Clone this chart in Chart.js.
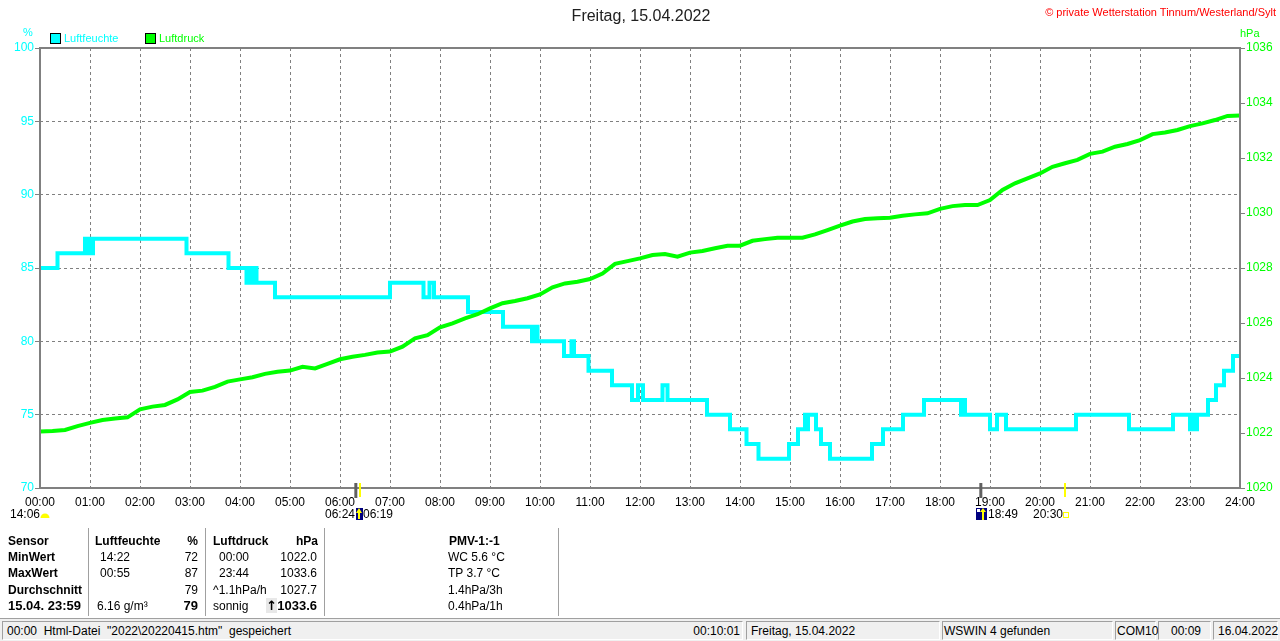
<!DOCTYPE html>
<html>
<head>
<meta charset="utf-8">
<title>Freitag, 15.04.2022</title>
<script src="https://cdn.jsdelivr.net/npm/chart.js@4.4.1/dist/chart.umd.min.js"></script>
<style>
body { margin: 0; background: #fff; font-family: "Liberation Sans", Arial, sans-serif; }
#wrap { position: relative; width: 1280px; height: 641px; overflow: hidden; background: #fff; }
#wrap canvas { position: absolute; left: 0; top: 0; }
.t { position: absolute; white-space: nowrap; font-size: 12px; line-height: 14px; color: #000; }
.b { font-weight: bold; }
.r { text-align: right; }
.sep { position: absolute; top: 528px; height: 88px; width: 0; border-left: 1px solid #a0a0a0; border-right: 1px solid #fff; }
#status { position: absolute; left: 0; top: 618px; width: 1280px; height: 23px; background: #f0f0f0; border-top: 1px solid #a0a0a0; }
.pan { position: absolute; top: 2px; height: 19px; box-sizing: border-box; border-top: 1px solid #a0a0a0; border-left: 1px solid #a0a0a0; border-bottom: 1px solid #fff; border-right: 1px solid #fff; }
.pan span { position: absolute; top: 2px; font-size: 12px; line-height: 14px; white-space: nowrap; }
.box { position: absolute; width: 9px; height: 9px; border: 1px solid #000; }
.pfeil { font-family: "DejaVu Sans", sans-serif; color: #000; background: #e8e8e8; font-weight: bold; }
</style>
</head>
<body>
<div id="wrap">
  <canvas id="grafik" width="1280" height="641"></canvas>

  <div class="t" style="left:1px;width:1280px;top:6px;text-align:center;font-size:16px;line-height:19px;color:#202020;">Freitag, 15.04.2022</div>
  <div class="t" style="right:4px;top:5px;font-size:11px;color:#ff0000;">© private Wetterstation Tinnum/Westerland/Sylt</div>
  <div class="t" style="left:23px;top:25px;font-size:11px;color:#00ffff;">%</div>
  <div class="t" style="left:1240px;top:26px;font-size:11px;color:#00ff00;">hPa</div>

  <div class="box" style="left:50px;top:33px;background:#00ffff;"></div>
  <div class="t" style="left:64px;top:31px;font-size:11px;color:#00ffff;">Luftfeuchte</div>
  <div class="box" style="left:145px;top:33px;background:#00ff00;"></div>
  <div class="t" style="left:159px;top:31px;font-size:11px;color:#00ff00;">Luftdruck</div>

  <!-- Tabelle -->
  <div class="sep" style="left:88px;"></div>
  <div class="sep" style="left:205px;"></div>
  <div class="sep" style="left:324px;"></div>
  <div class="sep" style="left:558px;"></div>

  <div class="t b" style="left:8px;top:534px;">Sensor</div>
  <div class="t b" style="left:8px;top:550px;">MinWert</div>
  <div class="t b" style="left:8px;top:566px;">MaxWert</div>
  <div class="t b" style="left:8px;top:583px;">Durchschnitt</div>
  <div class="t b" style="left:8px;top:599px;font-size:13px;">15.04. 23:59</div>

  <div class="t b" style="left:95px;top:534px;">Luftfeuchte</div>
  <div class="t" style="left:100px;top:550px;">14:22</div>
  <div class="t" style="left:100px;top:566px;">00:55</div>
  <div class="t" style="left:97px;top:599px;">6.16 g/m³</div>
  <div class="t b r" style="right:1082px;top:534px;">%</div>
  <div class="t r" style="right:1082px;top:550px;">72</div>
  <div class="t r" style="right:1082px;top:566px;">87</div>
  <div class="t r" style="right:1082px;top:583px;">79</div>
  <div class="t b r" style="right:1082px;top:599px;font-size:13px;">79</div>

  <div class="t b" style="left:213px;top:534px;">Luftdruck</div>
  <div class="t" style="left:219px;top:550px;">00:00</div>
  <div class="t" style="left:219px;top:566px;">23:44</div>
  <div class="t" style="left:213px;top:583px;">^1.1hPa/h</div>
  <div class="t" style="left:213px;top:599px;">sonnig</div>
  <div class="t b r" style="right:962px;top:534px;">hPa</div>
  <div class="t r" style="right:963px;top:550px;">1022.0</div>
  <div class="t r" style="right:963px;top:566px;">1033.6</div>
  <div class="t r" style="right:963px;top:583px;">1027.7</div>
  <div class="t b r" style="right:963px;top:599px;font-size:13px;"><span class="pfeil">↑</span>1033.6</div>

  <div class="t b" style="left:449px;top:534px;">PMV-1:-1</div>
  <div class="t" style="left:448px;top:550px;">WC 5.6 °C</div>
  <div class="t" style="left:448px;top:566px;">TP 3.7 °C</div>
  <div class="t" style="left:448px;top:583px;">1.4hPa/3h</div>
  <div class="t" style="left:448px;top:599px;">0.4hPa/1h</div>

  <!-- Statusleiste -->
  <div id="status">
    <div class="pan" style="left:2px;width:741px;"><span style="left:4px;">00:00&nbsp; Html-Datei&nbsp; "2022\20220415.htm"&nbsp; gespeichert</span><span style="right:2px;">00:10:01</span></div>
    <div class="pan" style="left:746px;width:194px;"><span style="left:4px;">Freitag, 15.04.2022</span></div>
    <div class="pan" style="left:942px;width:171px;"><span style="left:1px;">WSWIN 4 gefunden</span></div>
    <div class="pan" style="left:1115px;width:41px;"><span style="left:1px;">COM10</span></div>
    <div class="pan" style="left:1158px;width:53px;"><span style="left:12px;">00:09</span></div>
    <div class="pan" style="left:1213px;width:65px;"><span style="left:4px;">16.04.2022</span></div>
  </div>
</div>

<script>
// Luftfeuchte (%), Stufenwerte: Zeit in Stunden, Wert gilt bis zum naechsten Zeitpunkt
const feuchteZeit = [0, 0.35, 0.9, 0.95, 1.0, 1.03, 1.06, 2.93, 3.77, 4.13, 4.18, 4.23, 4.28, 4.33, 4.7,
  7.0, 7.67, 7.79, 7.88, 8.56, 9.26, 9.84, 9.9, 9.95, 10.48, 10.63, 10.68, 10.97, 11.44,
  11.84, 11.96, 12.06, 12.45, 12.55, 13.34, 13.8, 14.13, 14.37, 14.98, 15.16, 15.3, 15.33, 15.36,
  15.52, 15.62, 15.8, 16.64, 16.86, 17.26, 17.68, 18.42, 18.46, 18.5, 19.0, 19.14, 19.32,
  20.72, 21.78, 22.66, 23.0, 23.07, 23.1, 23.14, 23.36, 23.52, 23.68, 23.86, 24.0];
const feuchteWert = [85, 86, 87, 86, 87, 86, 87, 86, 85, 84, 85, 84, 85, 84, 83,
  84, 83, 84, 83, 82, 81, 80, 81, 80, 79, 80, 79, 78, 77,
  76, 77, 76, 77, 76, 75, 74, 73, 72, 73, 74, 75, 74, 75,
  74, 73, 72, 73, 74, 75, 76, 75, 76, 75, 74, 75, 74,
  75, 74, 75, 74, 75, 74, 75, 76, 77, 78, 79, 79];

const druckZeit = [];
for (let i = 0; i <= 96; i++) druckZeit.push(i / 4);
const druckWert = [
  1022.05, 1022.07, 1022.11, 1022.25, 1022.37, 1022.47, 1022.53, 1022.57,
  1022.86, 1022.96, 1023.02, 1023.22, 1023.49, 1023.54, 1023.68, 1023.87,
  1023.95, 1024.03, 1024.15, 1024.23, 1024.27, 1024.41, 1024.35, 1024.51,
  1024.68, 1024.77, 1024.84, 1024.93, 1024.96, 1025.14, 1025.44, 1025.56,
  1025.84, 1025.99, 1026.17, 1026.32, 1026.53, 1026.72, 1026.80, 1026.90,
  1027.04, 1027.30, 1027.44, 1027.50, 1027.60, 1027.80, 1028.15, 1028.25,
  1028.35, 1028.47, 1028.51, 1028.41, 1028.56, 1028.62, 1028.72, 1028.81,
  1028.81, 1028.99, 1029.05, 1029.10, 1029.10, 1029.10, 1029.22, 1029.38,
  1029.54, 1029.69, 1029.78, 1029.81, 1029.83, 1029.90, 1029.95, 1029.99,
  1030.15, 1030.25, 1030.29, 1030.29, 1030.47, 1030.84, 1031.08, 1031.26,
  1031.44, 1031.68, 1031.81, 1031.93, 1032.15, 1032.23, 1032.41, 1032.51,
  1032.65, 1032.87, 1032.93, 1033.02, 1033.16, 1033.26, 1033.38, 1033.53,
  1033.55];

// Sonne/Mond Markierungen auf der Zeitachse
const sonneZeiten = [6 + 19 / 60, 18 + 49 / 60];
const mondZeiten = [6 + 24 / 60, 20 + 30 / 60];

const schrift = "'Liberation Sans', Arial, sans-serif";

const rahmen = {
  id: 'rahmen',
  afterDatasetsDraw(chart) {
    const { ctx, chartArea: a, scales } = chart;
    ctx.save();
    ctx.strokeStyle = '#808080';
    ctx.lineWidth = 2;
    ctx.strokeRect(a.left, a.top, a.right - a.left, a.bottom - a.top);

    // Markierungen
    sonneZeiten.forEach(t => {
      const x = scales.x.getPixelForValue(t);
      ctx.strokeStyle = '#606060';
      ctx.lineWidth = 3;
      ctx.beginPath(); ctx.moveTo(x, a.bottom - 5); ctx.lineTo(x, a.bottom + 10); ctx.stroke();
    });
    mondZeiten.forEach(t => {
      const x = scales.x.getPixelForValue(t);
      ctx.strokeStyle = '#ffff00';
      ctx.lineWidth = 2;
      ctx.beginPath(); ctx.moveTo(x, a.bottom - 5); ctx.lineTo(x, a.bottom + 9); ctx.stroke();
    });

    // Texte unter der Achse
    ctx.fillStyle = '#000';
    ctx.font = '12px ' + schrift;
    ctx.textBaseline = 'middle';
    ctx.textAlign = 'left';
    ctx.fillText('14:06', 10, 515);
    ctx.textAlign = 'right';
    ctx.fillText('06:24', 355, 515);
    ctx.textAlign = 'left';
    ctx.fillText('06:19', 363, 515);
    ctx.fillText('18:49', 988, 515);
    ctx.fillText('20:30', 1033, 515);

    // Mond (links)
    ctx.fillStyle = '#ffff00';
    ctx.beginPath(); ctx.arc(45, 518, 4.5, Math.PI, 0); ctx.fill();
    // Sonnenaufgang
    ctx.fillStyle = '#000080';
    ctx.fillRect(356, 508, 7, 12);
    ctx.fillStyle = '#ffff00';
    ctx.beginPath(); ctx.moveTo(356, 513); ctx.lineTo(359, 508); ctx.lineTo(362, 513); ctx.fill();
    ctx.fillRect(358, 512, 2, 7);
    // Sonnenuntergang
    ctx.fillStyle = '#000080';
    ctx.fillRect(976, 508, 11, 12);
    ctx.fillStyle = '#ffffff';
    ctx.fillRect(977, 509, 3, 3);
    ctx.fillStyle = '#ffff00';
    ctx.beginPath(); ctx.moveTo(980, 512); ctx.lineTo(983, 508); ctx.lineTo(986, 512); ctx.fill();
    ctx.fillRect(982, 511, 2, 9);
    // Mondaufgang
    ctx.strokeStyle = '#ffff00';
    ctx.lineWidth = 1;
    ctx.strokeRect(1063.5, 512.5, 5, 5);
    ctx.restore();
  }
};

new Chart(document.getElementById('grafik'), {
  type: 'line',
  data: {
    datasets: [{
      label: 'Luftdruck',
      data: druckZeit.map((t, i) => ({ x: t, y: druckWert[i] })),
      yAxisID: 'y1',
      borderColor: '#00ff00',
      borderWidth: 4,
      pointRadius: 0,
      tension: 0,
      order: 1
    }, {
      label: 'Luftfeuchte',
      data: feuchteZeit.map((t, i) => ({ x: t, y: feuchteWert[i] })),
      yAxisID: 'y',
      borderColor: '#00ffff',
      borderWidth: 4,
      pointRadius: 0,
      stepped: 'before',
      order: 2
    }]
  },
  options: {
    responsive: false,
    animation: false,
    layout: { padding: { top: 48, left: 0, right: 0, bottom: 0 } },
    plugins: {
      legend: { display: false },
      title: { display: false },
      tooltip: { enabled: false }
    },
    scales: {
      x: {
        type: 'linear',
        min: 0,
        max: 24,
        afterFit: s => { s.height = 153; },
        ticks: {
          stepSize: 1,
          autoSkip: false,
          maxRotation: 0,
          color: '#000',
          padding: 7,
          font: { size: 12, family: schrift },
          callback: v => (v < 10 ? '0' : '') + v + ':00'
        },
        grid: { color: '#808080', lineWidth: 1, drawTicks: false },
        border: { display: false, dash: [3, 3] }
      },
      y: {
        position: 'left',
        min: 70,
        max: 100,
        afterFit: s => { s.width = 40; },
        ticks: { stepSize: 5, color: '#00ffff', padding: 1, font: { size: 12, family: schrift } },
        grid: { color: '#808080', lineWidth: 1, tickLength: 5, tickColor: '#808080' },
        border: { display: false, dash: [3, 3] }
      },
      y1: {
        position: 'right',
        min: 1020,
        max: 1036,
        afterFit: s => { s.width = 40; },
        ticks: { stepSize: 2, color: '#00ff00', padding: 1, font: { size: 12, family: schrift }, callback: v => String(v) },
        grid: { drawOnChartArea: false, tickLength: 5, tickColor: '#808080' },
        border: { display: false }
      }
    }
  },
  plugins: [rahmen]
});
</script>
</body>
</html>
